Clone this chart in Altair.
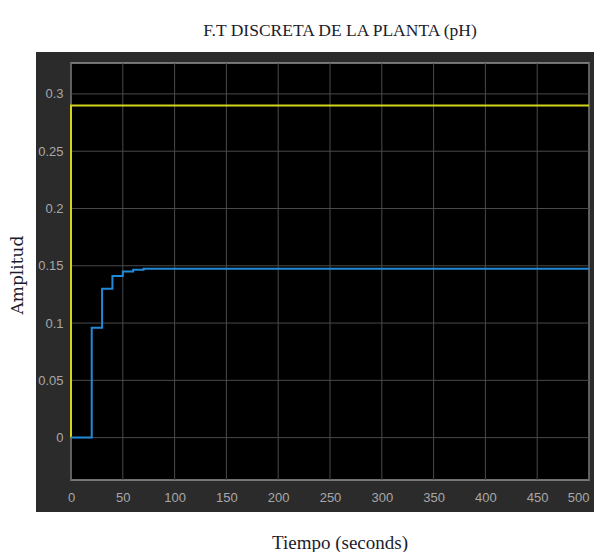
import altair as alt
import pandas as pd

# ---- data ----
blue_t = [0, 20, 30, 40, 50, 60, 70, 500]
blue_v = [0.0, 0.096, 0.13, 0.141, 0.145, 0.1465, 0.1475, 0.1475]

yellow_t = [0, 0, 500]
yellow_v = [0.0, 0.29, 0.29]

x_ticks = [0, 50, 100, 150, 200, 250, 300, 350, 400, 450, 500]
y_ticks = [0, 0.05, 0.1, 0.15, 0.2, 0.25, 0.3]

title_text = "F.T DISCRETA DE LA PLANTA (pH)"
x_title = "Tiempo (seconds)"
y_title = "Amplitud"

W, H = 518, 417

blue_df = pd.DataFrame({"t": blue_t, "v": blue_v, "i": range(len(blue_t))})
yellow_df = pd.DataFrame({"t": yellow_t, "v": yellow_v, "i": range(len(yellow_t))})
xt_df = pd.DataFrame({"t": x_ticks})
yt_df = pd.DataFrame({"v": y_ticks})
one = pd.DataFrame({"a": [0]})

x_scale = alt.Scale(domain=[0, 500], nice=False, zero=False)
y_scale = alt.Scale(domain=[-0.037, 0.327], nice=False, zero=False)

x_axis = alt.Axis(values=x_ticks, title=None, grid=False, domain=False, ticks=False,
                  labelColor="#a8a8a8", labelFont="Liberation Sans", labelFontSize=13,
                  labelPadding=11, zindex=2, labelFlush=False,
                  labelAlign={"condition": {"test": "datum.value == 500", "value": "right"},
                              "value": "center"})
y_axis = alt.Axis(values=y_ticks, title=None, grid=False, domain=False, ticks=False,
                  labelColor="#a8a8a8", labelFont="Liberation Sans", labelFontSize=13,
                  labelPadding=8, zindex=2, labelFlush=False,
                  labelExpr="datum.value == 0 ? '0' : format(datum.value, '.2~f')")

X = alt.X("t:Q", scale=x_scale, axis=x_axis)
Y = alt.Y("v:Q", scale=y_scale, axis=y_axis)

panel = alt.Chart(one).mark_rect(fill="#2b2b2b").encode(
    x=alt.value(-35), x2=alt.value(523), y=alt.value(-11), y2=alt.value(449))

plot_bg = alt.Chart(one).mark_rect(fill="#000000", stroke="#959595", strokeWidth=1.5).encode(
    x=alt.value(0), x2=alt.value(W), y=alt.value(0), y2=alt.value(H))

grid_x = alt.Chart(xt_df).mark_rule(color="#4a4a4a", strokeWidth=1).encode(x=X)
grid_y = alt.Chart(yt_df).mark_rule(color="#4a4a4a", strokeWidth=1).encode(y=Y)

yellow = alt.Chart(yellow_df).mark_line(color="#d4d41c", strokeWidth=2).encode(
    x=X, y=Y, order="i:Q")
blue = alt.Chart(blue_df).mark_line(color="#2289d8", strokeWidth=2,
                                    interpolate="step-after").encode(
    x=X, y=Y, order="i:Q")

title = alt.Chart(one).mark_text(font="Liberation Serif", fontSize=17.5, color="#1c1c2c",
                                 baseline="middle", align="center").encode(
    x=alt.value(269), y=alt.value(-32), text=alt.value(title_text))
xlab = alt.Chart(one).mark_text(font="Liberation Serif", fontSize=19, color="#1c1c2c",
                                baseline="middle", align="center").encode(
    x=alt.value(269), y=alt.value(480), text=alt.value(x_title))
ylab = alt.Chart(one).mark_text(font="DejaVu Serif", fontSize=17, color="#1c1c2c",
                                baseline="middle", align="center",
                                angle=270).encode(
    x=alt.value(-53), y=alt.value(212), text=alt.value(y_title))

chart = alt.layer(panel, plot_bg, grid_x, grid_y, yellow, blue, title, xlab, ylab).properties(
    width=W, height=H,
    padding={"left": 63, "top": 55, "right": 5, "bottom": 72},
    autosize=alt.AutoSizeParams(type="none"),
    background="#ffffff",
).configure_view(strokeWidth=0)

chart.save("out.html", embed_options={"renderer": "svg", "actions": False})
